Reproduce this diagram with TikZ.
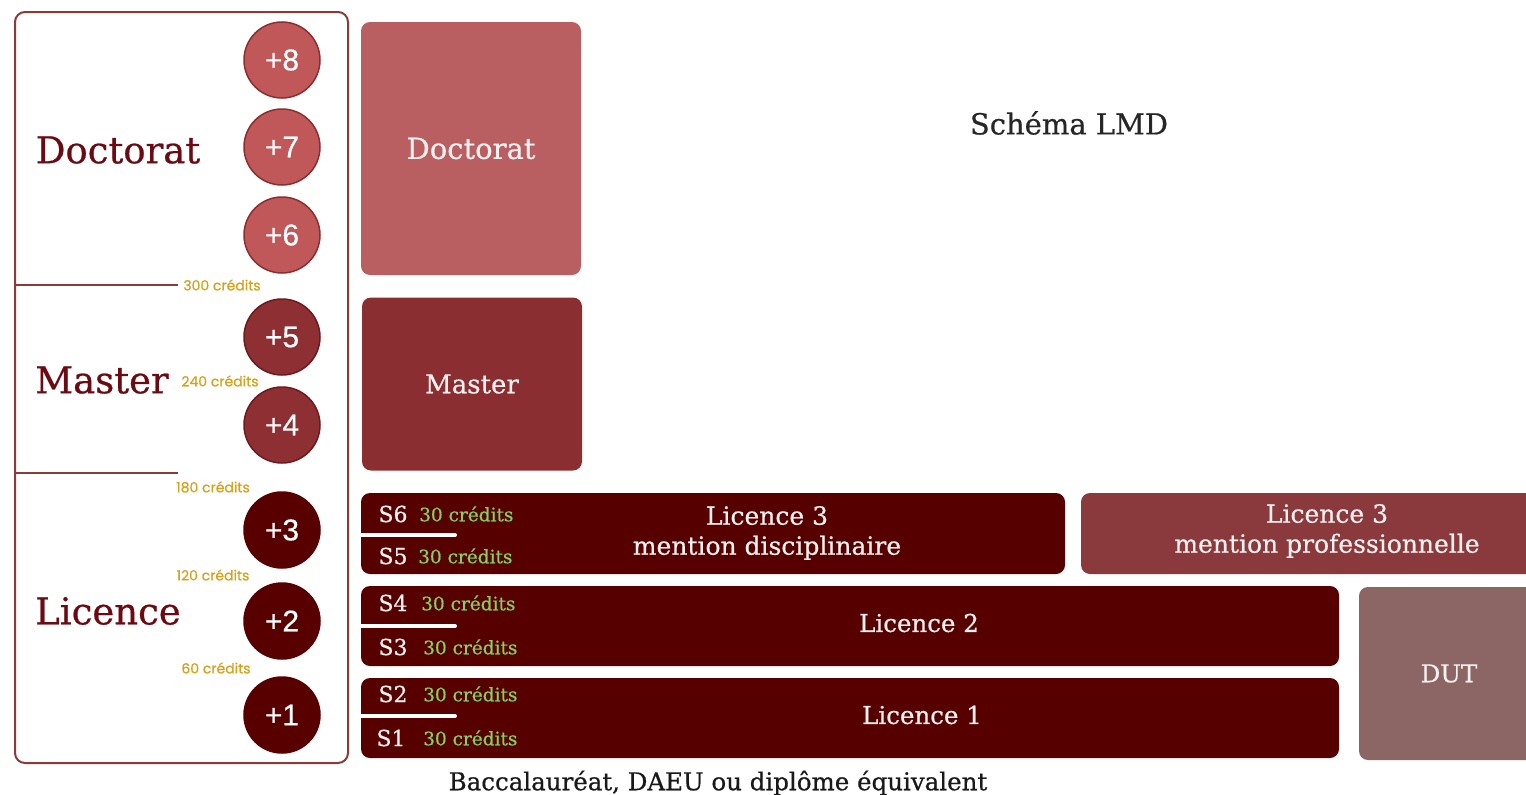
\documentclass[tikz,border=0pt]{standalone}
\usepackage{fontspec}
\setmainfont{DejaVu Serif}[FakeBold=0.6]
\newfontfamily\circfont{Liberation Sans}[FakeBold=0.5]
\newfontfamily\credfont{Poppins}[FakeBold=0.8]
\definecolor{frame}{HTML}{8B3A3A}
\definecolor{titlecol}{HTML}{6B0A12}
\definecolor{doccirc}{HTML}{C0585A}
\definecolor{docline}{HTML}{8B2E30}
\definecolor{docbox}{HTML}{B95F62}
\definecolor{mascirc}{HTML}{8E3033}
\definecolor{masline}{HTML}{6B1A1E}
\definecolor{masbox}{HTML}{8A2E32}
\definecolor{liccirc}{HTML}{580000}
\definecolor{band}{HTML}{560000}
\definecolor{procol}{HTML}{8A3A3C}
\definecolor{dutcol}{HTML}{8C6565}
\definecolor{gold}{HTML}{D6A21E}
\definecolor{greencred}{HTML}{86D05C}
\definecolor{wtext}{HTML}{F7F0F0}
\tikzset{
  bx/.style={rectangle, rounded corners=9pt, inner sep=0pt, text=wtext, align=center},
  yr/.style={circle, minimum size=76pt, inner sep=0pt, line width=1.5pt, text=white,
    font=\circfont\fontsize{30}{32}\selectfont},
  lvl/.style={text=titlecol, font=\fontsize{37}{40}\selectfont, inner sep=0pt},
  cred/.style={text=gold, font=\credfont\fontsize{14}{15}\selectfont, inner sep=0pt},
  sem/.style={text=wtext, font=\fontsize{22}{24}\selectfont, inner sep=0pt},
  gc/.style={text=greencred, font=\fontsize{18.5}{20}\selectfont, inner sep=0pt},
  split/.style={white, line width=4pt, line cap=round}
}
\begin{document}
\begin{tikzpicture}[x=1pt,y=-1pt]
\useasboundingbox (0,0) rectangle (1526,795);
% left frame
\draw[frame, line width=2pt, rounded corners=10pt] (15,12) rectangle (348,763);
\coordinate (d1) at (15,285); \coordinate (d2) at (178,285);
\coordinate (m1) at (15,473); \coordinate (m2) at (178,473);
\draw[frame, line width=2pt] (d1) -- (d2);
\draw[frame, line width=2pt] (m1) -- (m2);
% level titles
\node[lvl] (tdoc) at (118,150) {Doctorat};
\node[lvl] (tmas) at (102,380) {Master};
\node[lvl] (tlic) at (108,611) {Licence};
% circles
\node[yr, fill=doccirc, draw=docline] (c8) at (282,60) {+8};
\node[yr, fill=doccirc, draw=docline] (c7) at (282,147) {+7};
\node[yr, fill=doccirc, draw=docline] (c6) at (282,235) {+6};
\node[yr, fill=mascirc, draw=masline] (c5) at (282,337) {+5};
\node[yr, fill=mascirc, draw=masline] (c4) at (282,425) {+4};
\node[yr, fill=liccirc, draw=liccirc] (c3) at (282,530) {+3};
\node[yr, fill=liccirc, draw=liccirc] (c2) at (282,621) {+2};
\node[yr, fill=liccirc, draw=liccirc] (c1) at (282,715) {+1};
% credit labels
\node[cred] (k300) at (222,285) {300 crédits};
\node[cred] (k240) at (220,381) {240 crédits};
\node[cred] (k180) at (213,487) {180 crédits};
\node[cred] (k120) at (213,575) {120 crédits};
\node[cred] (k60) at (216,668) {60 crédits};
% Doctorat and Master boxes
\node[bx, fill=docbox, minimum width=220pt, minimum height=253pt,
  font=\fontsize{29}{32}\selectfont] (bdoc) at (471,148.5) {Doctorat};
\node[bx, fill=masbox, minimum width=220pt, minimum height=173pt,
  font=\fontsize{26}{28}\selectfont] (bmas) at (472,384) {Master};
% title
\node[text=black!85, font=\fontsize{29}{32}\selectfont, inner sep=0pt] (title) at (1069,123) {Schéma LMD};
% Licence 3 disciplinary
\node[bx, fill=band, minimum width=704pt, minimum height=81pt] (l3d) at (713,533.5) {};
\node[text=wtext, font=\fontsize{25}{30}\selectfont, align=center, inner sep=0pt] (l3dt) at (767,533) {Licence 3\\mention disciplinaire};
% Licence 3 professional
\node[bx, fill=procol, minimum width=460pt, minimum height=81pt] (l3p) at (1311,533.5) {};
\node[text=wtext, font=\fontsize{25}{30}\selectfont, align=center, inner sep=0pt] (l3pt) at (1327,531) {Licence 3\\mention professionnelle};
% Licence 2
\node[bx, fill=band, minimum width=978pt, minimum height=80pt] (l2) at (850,626) {};
\node[text=wtext, font=\fontsize{24.5}{26}\selectfont, inner sep=0pt] (l2t) at (919,623) {Licence 2};
% Licence 1
\node[bx, fill=band, minimum width=978pt, minimum height=80pt] (l1) at (850,718) {};
\node[text=wtext, font=\fontsize{24.5}{26}\selectfont, inner sep=0pt] (l1t) at (922,715) {Licence 1};
% DUT
\node[bx, fill=dutcol, minimum width=180pt, minimum height=173pt,
  font=\fontsize{24.5}{26}\selectfont] (dut) at (1449,673.5) {DUT};
% split lines
\coordinate (s65a) at (357,535); \coordinate (s65b) at (455,535);
\coordinate (s43a) at (357,626); \coordinate (s43b) at (455,626);
\coordinate (s21a) at (357,716); \coordinate (s21b) at (455,716);
\draw[split] (s65a) -- (s65b);
\draw[split] (s43a) -- (s43b);
\draw[split] (s21a) -- (s21b);
% semesters
\node[sem] (s6) at (393,514) {S6};
\node[gc, anchor=west] (g6) at (419,514) {30 crédits};
\node[sem] (s5) at (393,556) {S5};
\node[gc, anchor=west] (g5) at (418,556) {30 crédits};
\node[sem] (s4) at (393,603) {S4};
\node[gc, anchor=west] (g4) at (421,603) {30 crédits};
\node[sem] (s3) at (393,647) {S3};
\node[gc, anchor=west] (g3) at (423,647) {30 crédits};
\node[sem] (s2) at (393,694) {S2};
\node[gc, anchor=west] (g2) at (423,694) {30 crédits};
\node[sem] (s1) at (391,738) {S1};
\node[gc, anchor=west] (g1) at (423,738) {30 crédits};
% bottom
\node[text=black!90, font=\fontsize{24.5}{26}\selectfont, inner sep=0pt] (bac) at (718,783) {Baccalauréat, DAEU ou diplôme équivalent};
\end{tikzpicture}
\end{document}
